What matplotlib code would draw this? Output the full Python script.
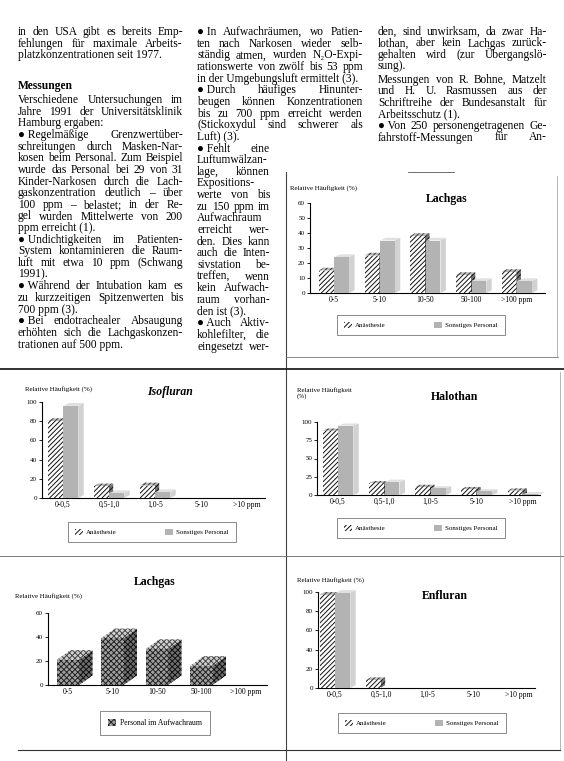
import matplotlib
matplotlib.use('Agg')
import matplotlib.pyplot as plt
import numpy as np
from matplotlib.patches import Patch

W, H = 564, 761

# chart data (percent of measurements per concentration class)
lachgas_cats = ["0-5", "5-10", "10-50", "50-100", ">100 ppm"]
lachgas_anaesthesie = [15, 25, 38, 12, 14]
lachgas_sonstige = [24, 35, 35, 8, 8]

vol_cats = ["0-0,5", "0,5-1,0", "1,0-5", "5-10", ">10 ppm"]
iso_anaesthesie = [80, 12, 13, 0, 0]
iso_sonstige = [96, 5, 6, 0, 0]
halo_anaesthesie = [88, 16, 11, 8, 6]
halo_sonstige = [95, 18, 9, 5, 1]
enflu_anaesthesie = [97, 8, 0, 0, 0]
enflu_sonstige = [99, 0, 0, 0, 0]

aufwach_cats = ["0-5", "5-10", "10-50", "50-100", ">100 ppm"]
aufwach_personal = [21, 39, 30, 16, 0]

legend_labels = ["Anästhesie", "Sonstiges Personal"]
ylabel = "Relative Häufigkeit (%)"

# article text, one list per paragraph
col1_top = [["in den USA gibt es bereits Emp-",
             "fehlungen für maximale Arbeits-",
             "platzkonzentrationen seit 1977."]]
col1_body = [["Verschiedene Untersuchungen im",
              "Jahre 1991 der Universitätsklinik",
              "Hamburg ergaben:"],
             ["● Regelmäßige Grenzwertüber-",
              "schreitungen durch Masken-Nar-",
              "kosen beim Personal. Zum Beispiel",
              "wurde das Personal bei 29 von 31",
              "Kinder-Narkosen durch die Lach-",
              "gaskonzentration deutlich – über",
              "100 ppm – belastet; in der Re-",
              "gel wurden Mittelwerte von 200",
              "ppm erreicht (1)."],
             ["● Undichtigkeiten im Patienten-",
              "System kontaminieren die Raum-",
              "luft mit etwa 10 ppm (Schwang",
              "1991)."],
             ["● Während der Intubation kam es",
              "zu kurzzeitigen Spitzenwerten bis",
              "700 ppm (3)."],
             ["● Bei endotrachealer Absaugung",
              "erhöhten sich die Lachgaskonzen-",
              "trationen auf 500 ppm."]]
col2 = [["● In Aufwachräumen, wo Patien-",
         "ten nach Narkosen wieder selb-",
         "ständig atmen, wurden N₂O-Expi-",
         "rationswerte von zwölf bis 53 ppm",
         "in der Umgebungsluft ermittelt (3)."],
        ["● Durch häufiges Hinunter-",
         "beugen können Konzentrationen",
         "bis zu 700 ppm erreicht werden",
         "(Stickoxydul sind schwerer als",
         "Luft) (3)."],
        ["● Fehlt eine", "Luftumwälzan-", "lage, können", "Expositions-",
         "werte von bis", "zu 150 ppm im", "Aufwachraum", "erreicht wer-",
         "den. Dies kann", "auch die Inten-", "sivstation be-", "treffen, wenn",
         "kein Aufwach-", "raum vorhan-", "den ist (3)."],
        ["● Auch Aktiv-", "kohlefilter, die", "eingesetzt wer- "]]
col3 = [["den, sind unwirksam, da zwar Ha-",
         "lothan, aber kein Lachgas zurück-",
         "gehalten wird (zur Übergangslö-",
         "sung)."],
        ["Messungen von R. Bohne, Matzelt",
         "und H. U. Rasmussen aus der",
         "Schriftreihe der Bundesanstalt für",
         "Arbeitsschutz (1)."],
        ["● Von 250 personengetragenen Ge-",
         "fahrstoff-Messungen für An- "]]

plt.rcParams['font.family'] = ['Liberation Serif', 'DejaVu Serif']
plt.rcParams['hatch.linewidth'] = 0.7

fig = plt.figure(figsize=(W / 100, H / 100), dpi=100)
bg = fig.add_axes([0, 0, 1, 1])
bg.set_xlim(0, W)
bg.set_ylim(H, 0)
bg.axis('off')
renderer = fig.canvas.get_renderer()
FS = 8.3


def put_line(x0, x1, y, s, justify, **kw):
    words = s.split()
    if words[0] == '●':
        words = ['● ' + words[1]] + words[2:]
    if not justify or len(words) < 2:
        bg.text(x0, y, s, va='baseline', fontsize=FS, **kw)
        return
    arts = [bg.text(x0, y, w, va='baseline', fontsize=FS, **kw) for w in words]
    widths = [a.get_window_extent(renderer).width for a in arts]
    gap = max((x1 - x0 - sum(widths)) / (len(words) - 1), 1.8)
    x = x0
    for a, w in zip(arts, widths):
        a.set_x(x)
        x += w + gap


def column(paras, x0, right, y0, step=11.65):
    y = y0
    for para in paras:
        for j, line in enumerate(para):
            last = j == len(para) - 1 and not line.endswith(' ')
            put_line(x0, right(y), y, line, not last)
            y += step
    return y


column(col1_top, 18, lambda y: 183, 35)
bg.text(18, 89, "Messungen", fontsize=FS, fontweight='bold', va='baseline')
column(col1_body, 18, lambda y: 183, 103)
column(col2, 197, lambda y: 363 if y < 145 else 270, 35)
column(col3[:1], 378, lambda y: 547, 35, 11.5)
column(col3[1:], 378, lambda y: 547, 83, 11.5)

# frame lines of the chart boxes
bg.plot([286, 286], [172, 761], color='#444', lw=0.8)
bg.plot([0, 564], [369, 369], color='#222', lw=1.3)
bg.plot([286, 558], [357, 357], color='#777', lw=0.6)
bg.plot([557, 557], [176, 357], color='#999', lw=0.5)
bg.plot([0, 564], [556, 556], color='#666', lw=0.6)
bg.plot([560, 560], [372, 750], color='#999', lw=0.5)
bg.plot([18, 560], [750, 750], color='#333', lw=0.8)
bg.plot([408, 454], [172, 172], color='#555', lw=0.6)

HATCH = dict(facecolor='white', hatch='///////', edgecolor='#111')
GRAY = dict(facecolor='#b3b3b3', edgecolor='#b3b3b3')


def make_axes(l, t, r, b, ymax, yticks, c0, step, cats):
    ax = fig.add_axes([l / W, 1 - b / H, (r - l) / W, (b - t) / H])
    ax.patch.set_alpha(0)
    for s in ('top', 'right'):
        ax.spines[s].set_visible(False)
    ax.spines['left'].set_linewidth(0.8)
    ax.spines['bottom'].set_linewidth(0.8)
    ax.set_ylim(0, ymax)
    ax.set_yticks(yticks)
    ax.set_xlim((l - c0) / step, (r - c0) / step)
    ax.set_xticks(np.arange(len(cats)))
    ax.set_xticklabels(cats)
    ax.tick_params(axis='y', labelsize=5, length=2, width=0.6, pad=1.5)
    ax.tick_params(axis='x', labelsize=5.5, length=0, pad=2)
    return ax


def bar3d(ax, xs, vals, width, front, side, top, dx, dy):
    ax.bar(xs, vals, width=width, linewidth=0, zorder=3, **front)
    for x, v in zip(xs, vals):
        if v <= 0:
            continue
        xl, xr = x - width / 2, x + width / 2
        ax.fill([xr, xr + dx, xr + dx, xr], [0, dy, v + dy, v],
                linewidth=0, zorder=2, clip_on=False, **side)
        ax.fill([xl, xl + dx, xr + dx, xr], [v, v + dy, v + dy, v],
                linewidth=0, zorder=2, clip_on=False, **top)


def pair_chart(box, cats, a_vals, s_vals, ymax, yticks, c0, step,
               title, title_xy, title_style, ylab_xy, ylab, legend_xy):
    ax = make_axes(*box, ymax, yticks, c0, step, cats)
    x = np.arange(len(cats))
    dy = ymax * 0.03
    bar3d(ax, x - 0.17, a_vals, 0.32, HATCH,
          dict(facecolor='#777', hatch='///////', edgecolor='#111'),
          dict(facecolor='#bbb', hatch='///////', edgecolor='#333'), 0.1, dy)
    bar3d(ax, x + 0.17, s_vals, 0.32, GRAY,
          dict(facecolor='#d2d2d2'), dict(facecolor='#e0e0e0'), 0.12, dy)
    bg.text(*title_xy, title, fontsize=8.5, fontweight='bold',
            fontstyle=title_style, ha='center', va='center')
    bg.text(*ylab_xy, ylab, fontsize=5, ha='left', va='center', linespacing=1.0)
    handles = [Patch(linewidth=0, **HATCH), Patch(linewidth=0, **GRAY)]
    leg = ax.legend(handles, legend_labels, loc='center',
                    bbox_to_anchor=(legend_xy[0] / W, 1 - legend_xy[1] / H),
                    bbox_transform=fig.transFigure, ncol=2, fontsize=5,
                    frameon=True, fancybox=False, edgecolor='#555',
                    columnspacing=7, handlelength=1.1, handleheight=1.0,
                    borderpad=1.0, handletextpad=0.5)
    leg.get_frame().set_linewidth(0.6)
    return ax


pair_chart((310, 203, 545, 293), lachgas_cats, lachgas_anaesthesie,
           lachgas_sonstige, 60, np.arange(0, 61, 10), 334, 45.7,
           "Lachgas", (447, 199), 'normal', (290, 188), ylabel, (421, 325))
pair_chart((42, 402, 265, 498), vol_cats, iso_anaesthesie, iso_sonstige,
           100, np.arange(0, 101, 20), 63, 46,
           "Isofluran", (170, 392), 'italic', (25, 389), ylabel, (152, 532))
pair_chart((317, 422, 540, 495), vol_cats, halo_anaesthesie, halo_sonstige,
           100, np.arange(0, 101, 25), 338, 46.2,
           "Halothan", (455, 397), 'normal', (297, 393),
           "Relative Häufigkeit\n(%)", (421, 528))
pair_chart((318, 592, 535, 688), vol_cats, enflu_anaesthesie, enflu_sonstige,
           100, np.arange(0, 101, 20), 335, 46,
           "Enfluran", (445, 596), 'normal', (297, 580), ylabel, (422, 723))

# Lachgas im Aufwachraum: single series drawn as blocks
ax = make_axes(48, 613, 267, 685, 60, [0, 20, 40, 60], 68, 44.5, aufwach_cats)
cube_front = dict(facecolor='#a0a0a0', hatch='xxxxxx', edgecolor='#222')
bar3d(ax, np.arange(len(aufwach_cats)), aufwach_personal, 0.5, cube_front,
      dict(facecolor='#6e6e6e', hatch='xxxxxx', edgecolor='#111'),
      dict(facecolor='#d0d0d0', hatch='xxxxxx', edgecolor='#444'), 0.3, 8)
bg.text(155, 582, "Lachgas", fontsize=8.5, fontweight='bold',
        ha='center', va='center')
bg.text(15, 596, ylabel, fontsize=5, ha='left', va='center')
leg = ax.legend([Patch(linewidth=0, **cube_front)], ["Personal im Aufwachraum"],
                loc='center', bbox_to_anchor=(155 / W, 1 - 723 / H),
                bbox_transform=fig.transFigure, fontsize=5.5, frameon=True,
                fancybox=False, edgecolor='#555', handlelength=1.1,
                handleheight=1.0, borderpad=1.0, handletextpad=0.5)
leg.get_frame().set_linewidth(0.6)

fig.savefig('out.png', dpi=100)
